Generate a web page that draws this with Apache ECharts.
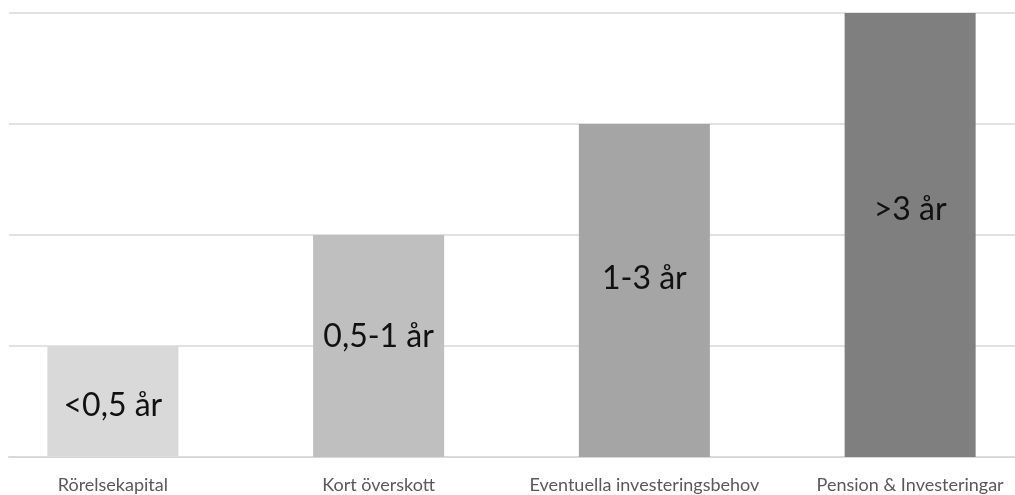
<!DOCTYPE html>
<html>
<head>
<meta charset="utf-8">
<style>
  html, body { margin: 0; padding: 0; background: #ffffff; }
  #chart { width: 1015px; height: 495px; }
</style>
<script src="https://cdn.jsdelivr.net/npm/echarts@6/dist/echarts.min.js"></script>
</head>
<body>
<div id="chart"></div>
<script>
// Liquidity buckets and their investment horizons
const categories = ['Rörelsekapital', 'Kort överskott', 'Eventuella investeringsbehov', 'Pension & Investeringar'];
const horizons = ['<0,5 år', '0,5-1 år', '1-3 år', '>3 år'];
const values = [1, 2, 3, 4];
const yTicks = [0, 1, 2, 3, 4];

// Presentation
const barColors = ['#d9d9d9', '#bfbfbf', '#a5a5a5', '#7f7f7f'];
const labelShift = [[0, 4], [0, -9], [0, -12], [0, -25]];
const gridColor = '#d9d9d9';

const chart = echarts.init(document.getElementById('chart'), null, { renderer: 'canvas' });

const yMin = yTicks[0];
const yMax = yTicks[yTicks.length - 1];

const option = {
  animation: false,
  backgroundColor: '#ffffff',
  grid: [
    // horizontal rules across the full width
    { left: 9, right: 0, top: 13, bottom: 38 },
    // bar layout, wider than the canvas so the outer bands are clipped
    { left: -20, width: 1063, top: 13, bottom: 38, outerBoundsMode: 'none' }
  ],
  xAxis: [
    {
      gridIndex: 0, type: 'value', min: 0, max: 1,
      axisLine: { show: true, lineStyle: { color: gridColor, width: 2 } },
      axisTick: { show: false }, axisLabel: { show: false }, splitLine: { show: false }
    },
    {
      gridIndex: 1, type: 'category', data: categories,
      axisLine: { show: false }, axisTick: { show: false },
      axisLabel: {
        interval: 0, margin: 19,
        fontFamily: 'Lato', fontSize: 18, color: '#595959'
      }
    }
  ],
  yAxis: [
    {
      gridIndex: 0, type: 'value', min: yMin, max: yMax, interval: 1,
      axisLine: { show: false }, axisTick: { show: false }, axisLabel: { show: false },
      splitLine: { show: true, lineStyle: { color: gridColor, width: 1.5 } }
    },
    {
      gridIndex: 1, type: 'value', min: yMin, max: yMax, interval: 1, show: false,
      splitLine: { show: false }
    }
  ],
  series: [
    {
      type: 'bar',
      xAxisIndex: 1, yAxisIndex: 1,
      barCategoryGap: '50.7%',
      data: values.map((v, i) => ({
        value: v,
        itemStyle: { color: barColors[i] },
        label: {
          show: true,
          position: 'inside',
          offset: labelShift[i],
          formatter: horizons[i],
          fontFamily: 'Lato', fontSize: 32, color: '#111111'
        }
      }))
    }
  ]
};

chart.setOption(option);
</script>
</body>
</html>
